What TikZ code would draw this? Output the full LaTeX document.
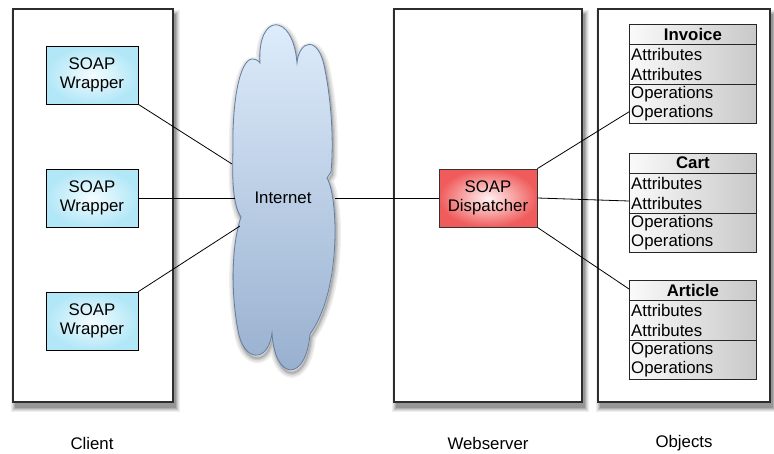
\documentclass[tikz,border=0pt]{standalone}
\usepackage{fontspec}
\setmainfont{Liberation Sans}
\usetikzlibrary{calc,fit}

\definecolor{frame}{RGB}{45,45,45}
\definecolor{wrapin}{RGB}{244,252,255}
\definecolor{wrapout}{RGB}{178,231,247}
\definecolor{dispin}{RGB}{255,242,242}
\definecolor{dispout}{RGB}{240,92,92}
\definecolor{cloudtop}{RGB}{224,238,252}
\definecolor{cloudbot}{RGB}{150,174,206}
\definecolor{cloudline}{RGB}{100,126,162}
\definecolor{classl}{RGB}{250,250,250}
\definecolor{classr}{RGB}{200,200,200}
\definecolor{shadeA}{RGB}{238,238,238}
\definecolor{shadeB}{RGB}{222,222,222}
\definecolor{shadeC}{RGB}{200,200,200}
\definecolor{shadeD}{RGB}{175,175,175}
\definecolor{shadeE}{RGB}{150,150,150}

\tikzset{
  lbl/.style={font=\fontsize{16.8}{18.5}\selectfont, align=center, inner sep=0pt},
  container/.style={draw=frame, line width=1.1pt, fill=white, inner sep=0pt},
  wrapper/.style={lbl, draw=black, line width=0.8pt, minimum width=92pt, minimum height=58pt,
    shading=radial, inner color=wrapin, outer color=wrapout},
  dispatcher/.style={lbl, draw=black!80, line width=0.8pt, minimum width=98pt, minimum height=58pt,
    shading=radial, inner color=dispin, outer color=dispout},
  classbox/.style={draw=black!85, line width=0.8pt, minimum width=127pt, minimum height=99pt,
    inner sep=0pt, left color=classl, right color=classr},
  divider/.style={draw=black!85, line width=0.8pt},
  rowtxt/.style={lbl, anchor=west},
  link/.style={draw=black, line width=0.8pt},
}

% soft shadow behind a box given by two corner coordinates: nested grey bands
\newcommand\boxshadow[2]{%
  \fill[shadeA] ($(#1)+(-2,1)$) rectangle ($(#2)+(7,10)$);
  \fill[shadeB] ($(#1)+(-1,2)$) rectangle ($(#2)+(6,9)$);
  \fill[shadeC] ($(#1)+(0,3)$)  rectangle ($(#2)+(5,8)$);
  \fill[shadeD] ($(#1)+(1,4)$)  rectangle ($(#2)+(4,7)$);
  \fill[shadeE] ($(#1)+(2,5)$)  rectangle ($(#2)+(3,6)$);
}

% outline of the internet cloud
\newcommand\cloudpath{%
  (260,63)
  .. controls (257,12) and (293,12) .. (297,63)
  .. controls (299,40) and (319,34) .. (325,70)
  .. controls (331,100) and (334,140) .. (331,172)
  -- (327,178)
  .. controls (338,196) and (342,290) .. (310,334)
  .. controls (306,382) and (275,382) .. (272,333)
  .. controls (268,364) and (243,362) .. (238,330)
  .. controls (232,300) and (230,250) .. (241,217)
  .. controls (233,205) and (232,180) .. (233,150)
  .. controls (232,100) and (240,60) .. (252,59)
  .. controls (256,59) and (259,61) .. (260,63) -- cycle}

% UML-like class box: name, title, top edge
\newcommand\umlclass[3]{%
  \node[classbox, anchor=north west] (#1) at (629,#3) {};
  \draw[divider] ($(#1.north west)+(0,20)$) -- ($(#1.north east)+(0,20)$);
  \draw[divider] ($(#1.north west)+(0,60)$) -- ($(#1.north east)+(0,60)$);
  \node[lbl, font=\fontsize{16.8}{18.5}\selectfont\bfseries] (#1-title) at ($(#1.north)+(0,10)$) {#2};
  \node[rowtxt] (#1-a1) at ($(#1.north west)+(2,30.5)$) {Attributes};
  \node[rowtxt] (#1-a2) at ($(#1.north west)+(2,50)$) {Attributes};
  \node[rowtxt] (#1-o1) at ($(#1.north west)+(2,70)$) {Operations};
  \node[rowtxt] (#1-o2) at ($(#1.north west)+(2,89.5)$) {Operations};
}

\begin{document}
\begin{tikzpicture}[x=1pt, y=-1pt]
\useasboundingbox (0,0) rectangle (774,453);

% corners of the three containers
\coordinate (clientNW) at (13,9);   \coordinate (clientSE) at (173,402);
\coordinate (webNW) at (394,9);     \coordinate (webSE) at (582,402);
\coordinate (objNW) at (598,9);     \coordinate (objSE) at (770,402);

% shadows first, then the containers on top
\boxshadow{clientNW}{clientSE}
\boxshadow{webNW}{webSE}
\boxshadow{objNW}{objSE}
\node[container, fit=(clientNW)(clientSE)] (client) {};
\node[container, fit=(webNW)(webSE)] (web) {};
\node[container, fit=(objNW)(objSE)] (objects) {};

% the internet cloud with a soft halo
\begin{scope}[shift={(1,3)}]
  \draw[shadeA, line width=10pt, line join=round] \cloudpath;
  \draw[shadeB, line width=7pt, line join=round] \cloudpath;
  \draw[shadeC, line width=4pt, line join=round] \cloudpath;
  \draw[shadeD, line width=1.5pt, line join=round] \cloudpath;
\end{scope}
\path[draw=cloudline, line width=0.8pt, top color=cloudtop, bottom color=cloudbot] \cloudpath;
\node[lbl] (internet) at (283,198) {Internet};
\coordinate (cl1) at (232,164);
\coordinate (cl2) at (235,198);
\coordinate (cl3) at (240,226);
\coordinate (cr) at (335,198);

% client side
\node[wrapper] (w1) at (92,75) {SOAP\\Wrapper};
\node[wrapper] (w2) at (92,198) {SOAP\\Wrapper};
\node[wrapper] (w3) at (92,321) {SOAP\\Wrapper};

% server side
\node[dispatcher] (disp) at (488,198) {SOAP\\Dispatcher};

% objects
\umlclass{invoice}{Invoice}{24}
\umlclass{cart}{Cart}{153}
\umlclass{article}{Article}{280}

% connections
\draw[link] (w1.south east) -- (cl1);
\draw[link] (w2.east) -- (cl2);
\draw[link] (w3.north east) -- (cl3);
\draw[link] (cr) -- (disp.west);
\draw[link] (disp.north east) -- ($(invoice.south west)+(0,-12)$);
\draw[link] (disp.east) -- ($(cart.north west)+(0,48)$);
\draw[link] (disp.south east) -- ($(article.north west)+(0,9)$);

% captions
\node[lbl] (clientlbl) at (92,443) {Client};
\node[lbl] (weblbl) at (488,443) {Webserver};
\node[lbl] (objlbl) at (684,443) {Objects};
\end{tikzpicture}
\end{document}
